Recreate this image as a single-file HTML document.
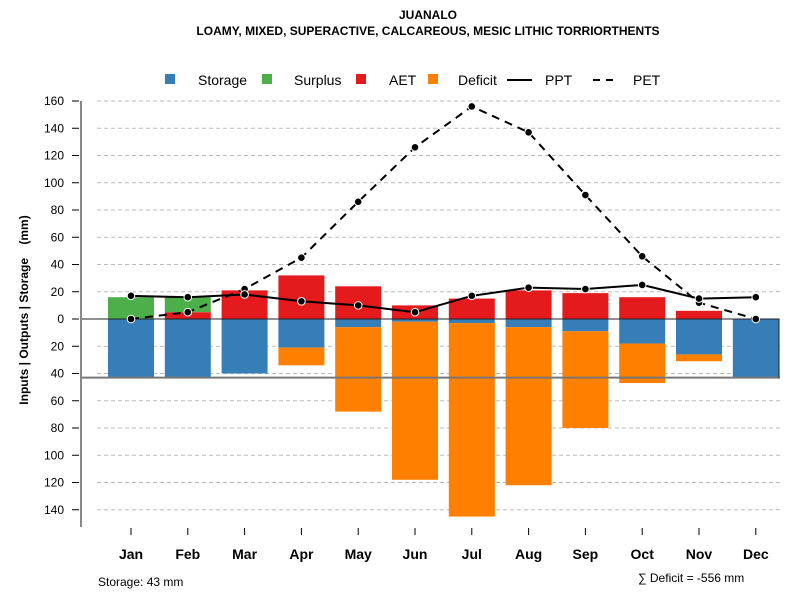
<!DOCTYPE html>
<html><head><meta charset="utf-8"><style>
body{margin:0;background:#fff;}
svg{font-family:"Liberation Sans",sans-serif;}
</style></head><body>
<svg id="chart" width="800" height="600" viewBox="0 0 800 600">
<text x="428" y="19" text-anchor="middle" font-size="12" font-weight="bold">JUANALO</text>
<text x="428" y="35" text-anchor="middle" font-size="12" font-weight="bold">LOAMY, MIXED, SUPERACTIVE, CALCAREOUS, MESIC LITHIC TORRIORTHENTS</text>
<g font-size="14">
 <g><rect x="165" y="74" width="10" height="10" fill="#377eb8"/><text x="198" y="85">Storage</text></g>
 <g><rect x="262" y="74" width="10" height="10" fill="#4daf4a"/><text x="294" y="85">Surplus</text></g>
 <g><rect x="356" y="74" width="10" height="10" fill="#e41a1c"/><text x="389" y="85">AET</text></g>
 <g><rect x="428" y="74" width="10" height="10" fill="#ff7f00"/><text x="458" y="85">Deficit</text></g>
 <g><line x1="507" y1="80" x2="532" y2="80" stroke="#000" stroke-width="2"/><text x="545" y="85">PPT</text></g>
 <g><line x1="593" y1="80" x2="617" y2="80" stroke="#000" stroke-width="2" stroke-dasharray="7,6"/><text x="633" y="85">PET</text></g>
</g>
<text transform="translate(28,310) rotate(-90)" text-anchor="middle" font-size="12" font-weight="bold">Inputs | Outputs | Storage&#160;&#160;&#160;&#160;(mm)</text>
<g id="grid"></g>
<g id="bars"></g>
<g id="axes"></g>
<g id="lines"></g>
<text x="98" y="586" font-size="12">Storage: 43 mm</text>
<text x="638" y="582" font-size="12">∑ Deficit = -556 mm</text>
</svg>
<script>
const months=["Jan","Feb","Mar","Apr","May","Jun","Jul","Aug","Sep","Oct","Nov","Dec"];
const storage=[43,43,40,21,6,2,3,6,9,18,26,43];
const deficit=[0,0,0,13,62,116,142,116,71,29,5,0];
const aet=[0,5,21,32,24,10,15,21,19,16,6,0];
const surplus=[16,11,0,0,0,0,0,0,0,0,0,0];
const ppt=[17,16,18,13,10,5,17,23,22,25,15,16];
const pet=[0,5,22,45,86,126,156,137,91,46,12,0];
const yTicks=[160,140,120,100,80,60,40,20,0,-20,-40,-60,-80,-100,-120,-140];
const soilStorage=43;
const NS="http://www.w3.org/2000/svg";
const y=v=>319-v*1.3625;
const x=i=>131+i*56.8;
const bw=46;
function mk(tag,attrs,parent){const e=document.createElementNS(NS,tag);for(const k in attrs)e.setAttribute(k,attrs[k]);parent.appendChild(e);return e;}
const grid=document.getElementById('grid'),bars=document.getElementById('bars'),axes=document.getElementById('axes'),lines=document.getElementById('lines');
yTicks.forEach(t=>{
 const g=mk('line',{x1:97,x2:780,y1:y(t),y2:y(t),stroke:'#bbb','stroke-dasharray':'4,3'},grid);
 
 
 const tk=mk('line',{x1:72,x2:79,y1:y(t),y2:y(t),stroke:'#000'},axes);
 
 
 const tx=mk('text',{x:64,y:y(t)+4,'text-anchor':'end','font-size':12},axes);
 tx.textContent=Math.abs(t);
 
 
});
const ax=mk('line',{x1:81,x2:81,y1:101,y2:527,stroke:'#888','stroke-width':2},axes);


function bar(i,v0,v1,color,name){
 if(v1===v0)return;
 const r=mk('rect',{x:x(i)-bw/2,y:Math.min(y(v0),y(v1)),width:bw,height:Math.abs(y(v1)-y(v0)),fill:color},bars);
 
 
}
months.forEach((m,i)=>{
 bar(i,0,-storage[i],'#377eb8','bar-storage-'+m.toLowerCase());
 bar(i,-storage[i],-storage[i]-deficit[i],'#ff7f00','bar-deficit-'+m.toLowerCase());
 bar(i,0,aet[i],'#e41a1c','bar-aet-'+m.toLowerCase());
 bar(i,aet[i],aet[i]+surplus[i],'#4daf4a','bar-surplus-'+m.toLowerCase());
 const tk=mk('line',{x1:x(i),x2:x(i),y1:528,y2:535,stroke:'#000'},axes);
 
 
 const tx=mk('text',{x:x(i),y:559,'text-anchor':'middle','font-size':14,'font-weight':'bold'},axes);
 tx.textContent=m;
 
 
});
const sl=mk('line',{x1:82,x2:780,y1:y(-soilStorage),y2:y(-soilStorage),stroke:'#777','stroke-width':2},bars);


const zl=mk('path',{d:`M82 ${y(0)} H779 V${y(-soilStorage)}`,stroke:'#222','stroke-width':1,fill:'none'},bars);


function series(vals,dash,name){
 const p=mk('polyline',{points:vals.map((v,i)=>x(i)+','+y(v)).join(' '),fill:'none',stroke:'#000','stroke-width':2,'stroke-dasharray':dash},lines);
 
 
 vals.forEach((v,i)=>{
  const c=mk('circle',{cx:x(i),cy:y(v),r:3.8,fill:'#000',stroke:'#fff','stroke-width':1},lines);
  
  
 });
}
series(pet,'8,6','pet');
series(ppt,'none','ppt');
</script>
</body></html>
